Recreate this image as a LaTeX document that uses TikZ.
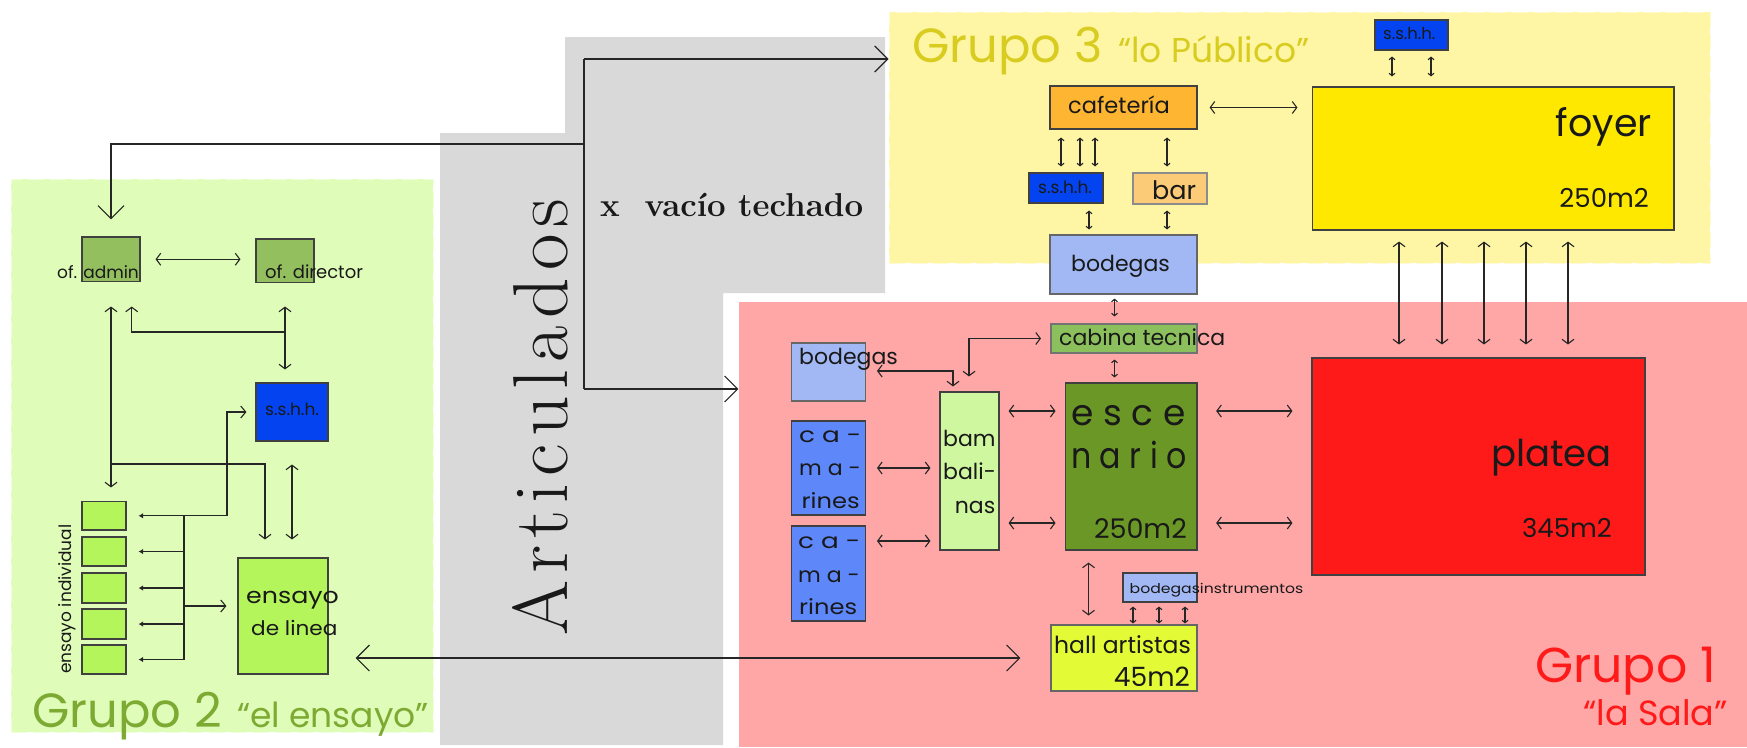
\documentclass[tikz,border=0pt]{standalone}
\usepackage{fontspec}
\usetikzlibrary{arrows.meta}
\newfontfamily\planfont{Poppins}
\newfontfamily\serifont{Latin Modern Roman}
\newfontfamily\artfont[LetterSpace=9]{Latin Modern Roman}
\def\fsz#1{\fontsize{#1}{#1}\selectfont}
\def\roombox[#1](#2)(#3,#4)(#5,#6){\node[room,#1,minimum width={(#5-(#3))*1pt},minimum height={(#6-(#4))*1pt}] (#2) at ({(#3+#5)/2},{(#4+#6)/2}) {};}
\definecolor{zonaverde}{RGB}{223,253,184}
\definecolor{zonaamarilla}{RGB}{255,246,165}
\definecolor{zonaroja}{RGB}{255,166,166}
\definecolor{zonagris}{RGB}{217,217,217}
\definecolor{azulbano}{RGB}{3,68,240}
\definecolor{azulbodega}{RGB}{162,184,244}
\definecolor{azulcamarin}{RGB}{94,136,250}
\definecolor{verdeoficina}{RGB}{147,191,94}
\definecolor{verdeensayo}{RGB}{181,245,92}
\definecolor{verdebamba}{RGB}{207,247,160}
\definecolor{verdeescena}{RGB}{107,151,39}
\definecolor{verdecabina}{RGB}{140,192,92}
\definecolor{amarillohall}{RGB}{227,250,54}
\definecolor{amarillofoyer}{RGB}{255,232,0}
\definecolor{rojoplatea}{RGB}{255,26,26}
\definecolor{naranjacafe}{RGB}{253,181,50}
\definecolor{naranjabar}{RGB}{252,203,120}
\definecolor{titulo3}{RGB}{216,204,32}
\definecolor{titulo2}{RGB}{124,170,50}
\tikzset{
	room/.style={draw=black!75,line width=1.1pt,inner sep=0pt},
	zona/.style={draw=none,inner sep=0pt},
	zonarayas/.style={line width=1pt,dash pattern=on 16pt off 6pt},
	flecha/.style={draw=black!85,line width=1.1pt,{Straight Barb[length=4.5pt,width=12pt]}-{Straight Barb[length=4.5pt,width=12pt]}},
	flechita/.style={draw=black!85,line width=1.1pt,{Straight Barb[length=2.5pt,width=6pt]}-{Straight Barb[length=2.5pt,width=6pt]}},
	flechon/.style={draw=black!85,line width=1.2pt,-{Straight Barb[length=13pt,width=26pt]}},
	tag/.style={inner sep=0pt,anchor=base west,text=black!90},
	tagr/.style={inner sep=0pt,anchor=base east,text=black!90},
}
\begin{document}
\begin{tikzpicture}[x=1pt,y=-1pt]
	\useasboundingbox (0,0) rectangle (1747,747);
	
	%%%%% ZONAS %%%%%
	\fill[zonagris] (440,133) -- (565,133) -- (565,37) -- (885,37) -- (885,293) -- (723,293) -- (723,745) -- (440,745) -- cycle;
	\roombox[zona,fill=zonaverde,draw=zonaverde!50!white,zonarayas](zona2)(11,179)(433,732)
	\roombox[zona,fill=zonaamarilla,draw=zonaamarilla!50!white,zonarayas](zona3)(889,12)(1710,263)
	\roombox[zona,fill=zonaroja](zona1)(739,302)(1747,747)
	
	%%%%% GRUPO 2 %%%%%
	\roombox[fill=verdeoficina](admin)(82,237)(140,281.5)
	\roombox[fill=verdeoficina](director)(256,239)(314,282.6)
	\roombox[fill=azulbano](sshhB)(256,383)(328,441)
	\roombox[fill=verdeensayo](ensayo)(238,558)(328,674)
	\roombox[fill=verdeensayo](en1)(82,501.5)(126,530)
	\roombox[fill=verdeensayo](en2)(82,537)(126,566)
	\roombox[fill=verdeensayo](en3)(82,573)(126,603)
	\roombox[fill=verdeensayo](en4)(82,609)(126,639)
	\roombox[fill=verdeensayo](en5)(82,645)(126,674)
	
	%%%%% GRUPO 3 %%%%%
	\roombox[fill=azulbano](sshhC)(1375,20)(1448,50)
	\roombox[fill=amarillofoyer](foyer)(1312.5,87)(1674,230)
	\roombox[fill=naranjacafe](cafe)(1050,86)(1197,129)
	\roombox[fill=azulbano](sshhA)(1029,173)(1103,203)
	\roombox[fill=naranjabar,draw=black!45](bar)(1133,173)(1207,204)
	\roombox[fill=azulbodega,draw=black!60](bodegas)(1050,235)(1197,294)
	
	%%%%% GRUPO 1 %%%%%
	\roombox[fill=verdecabina,draw=black!55](cabina)(1051,324)(1197,353)
	\roombox[fill=verdeescena](esc)(1065.6,383)(1197,550)
	\roombox[fill=verdebamba](bamb)(940,392)(999,550)
	\roombox[fill=azulbodega,draw=black!60](bodegasL)(791.5,343)(865.4,401)
	\roombox[fill=azulcamarin](cam1)(791.5,421)(865.4,515)
	\roombox[fill=azulcamarin](cam2)(791.5,526)(865.4,621)
	\roombox[fill=azulbodega](instr)(1123,573)(1197,602)
	\roombox[fill=amarillohall,draw=black!60](hall)(1051,625)(1197,691)
	\roombox[fill=rojoplatea](platea)(1312,358)(1645,575)
	
	%%%%% FLECHAS GRANDES %%%%%
	\coordinate (nudoA) at (584,59);
	\coordinate (nudoB) at (584,389);
	\coordinate (nudoC) at (584,144);
	\draw[flechon,-,line width=1.7pt] (nudoA) -- (nudoB);
	\draw[flechon] (nudoA) -- (nudoA -| zona3.west);
	\draw[flechon] (nudoB) -- (nudoB -| zona1.west);
	\draw[flechon,shorten >=17pt] (nudoC) -| (admin.north);
	\draw[flechon,{Straight Barb[length=13pt,width=26pt]}-{Straight Barb[length=13pt,width=26pt]},shorten <=27pt,shorten >=30pt] (ensayo.east |- hall.west) -- (hall.west);
	
	%%%%% FLECHAS GRUPO 2 %%%%%
	\draw[flecha,shorten <=15pt,shorten >=15pt] (admin.east) -- (admin.east -| director.west);
	\coordinate (cruce) at (285,332);
	\coordinate (ramal) at (111,464);
	\coordinate (busx) at (184,519);
	\draw[flecha,shorten <=24.5pt,shorten >=13.5pt] (admin.south) -- (admin.south |- en1.north);
	\draw[flecha,-{Straight Barb[length=4.5pt,width=12pt]},shorten >=24.5pt] (cruce) -| (131.7,0 |- admin.south);
	\draw[flecha,shorten <=23.4pt,shorten >=13pt] (director.south) -- (director.south |- sshhB.north);
	\draw[flecha,-{Straight Barb[length=4.5pt,width=12pt]},shorten >=18pt] (ramal) -| (265,0 |- ensayo.north);
	\draw[flecha,shorten <=23pt,shorten >=18pt] (sshhB.south) -- (sshhB.south |- ensayo.north);
	\draw[black!85,line width=1.2pt] (busx |- en1.east) -- (busx |- en5.east);
	\foreach \k in {1,...,5}
		\draw[flechita,-{Latex[length=4.5pt,width=5.5pt]},shorten >=12pt] (en\k.east -| busx) -- (en\k.east);
	\draw[flecha,-{Straight Barb[length=5pt,width=12pt]},shorten >=11pt] (184,606) -- (ensayo.west |- 0,606);
	\draw[flecha,-{Straight Barb[length=5pt,width=12pt]},shorten >=9pt] (busx |- en1.east) -| (227,0 |- sshhB.west) -- (sshhB.west);
	
	%%%%% FLECHAS GRUPO 3 %%%%%
	\draw[flecha,shorten <=12pt,shorten >=14.5pt] (cafe.east) -- (cafe.east -| foyer.west);
	\foreach \px in {1392,1431}
		\draw[flechita,shorten <=6pt,shorten >=10pt] (\px,0 |- sshhC.south) -- (\px,0 |- foyer.north);
	\foreach \px in {1061,1080,1095}
		\draw[flechita,shorten <=8pt,shorten >=6pt] (\px,0 |- cafe.south) -- (\px,0 |- sshhA.north);
	\draw[flechita,shorten <=8pt,shorten >=6pt] (1167,0 |- cafe.south) -- (1167,0 |- bar.north);
	\draw[flechita,shorten <=7pt,shorten >=5pt] (1089,0 |- sshhA.south) -- (1089,0 |- bodegas.north);
	\draw[flechita,shorten <=6pt,shorten >=5pt] (1167,0 |- bar.south) -- (1167,0 |- bodegas.north);
	\draw[flechita,shorten <=4pt,shorten >=7pt] (1114.5,0 |- bodegas.south) -- (1114.5,0 |- cabina.north);
	\foreach \px in {1399,1442,1484,1526,1568}
		\draw[flecha,shorten <=11pt,shorten >=13pt] (\px,0 |- foyer.south) -- (\px,0 |- platea.north);
	
	%%%%% FLECHAS GRUPO 1 %%%%%
	\draw[flechita,shorten <=6pt,shorten >=5pt] (1114.5,0 |- cabina.south) -- (1114.5,0 |- esc.north);
	\foreach \py in {411,523} {
		\draw[flecha,shorten <=9pt,shorten >=9.5pt] (bamb.east |- 0,\py) -- (esc.west |- 0,\py);
		\draw[flecha,shorten <=18.6pt,shorten >=19pt] (esc.east |- 0,\py) -- (platea.west |- 0,\py);
	}
	\draw[flecha,shorten <=11pt,shorten >=9pt] (cam1.east) -- (cam1.east -| bamb.west);
	\draw[flecha,shorten <=11pt,shorten >=9pt] (cam2.east |- 0,541) -- (bamb.west |- 0,541);
	\draw[flecha,shorten <=11pt,shorten >=5pt] (bodegasL.east |- 0,371) -| (953,0 |- bamb.north);
	\draw[flecha,shorten <=9.5pt,shorten >=15pt] (cabina.west) -| (969,0 |- bamb.north);
	\draw[flecha,shorten <=12pt,shorten >=9pt] (1088.5,0 |- esc.south) -- (1088.5,0 |- hall.north);
	\foreach \px in {1133,1159,1185}
		\draw[flechita,shorten <=4pt,shorten >=1pt] (\px,0 |- instr.south) -- (\px,0 |- hall.north);
	
	%%%%% TEXTOS %%%%%
	\node[tag,rotate=90,font=\artfont\fsz{72}] (tArticulados) at (567,636) {\resizebox{437pt}{55pt}{Articulados}};
	\node[tag,font=\serifont\bfseries\fsz{30}] (tVacio) at (600,216) {\resizebox{263pt}{!}{x\ \ vacío techado}};
	
	\node[tag,text=titulo2,font=\planfont\fsz{48}] (tGrupoB) at (32,727) {Grupo 2};
	\node[tag,text=titulo2,font=\planfont\fsz{34.5}] (tEnsayo) at (237,727) {“el ensayo”};
	\node[tag,text=titulo3,font=\planfont\fsz{48}] (tGrupoC) at (912,62) {Grupo 3};
	\node[tag,text=titulo3,font=\planfont\fsz{34.5}] (tPublico) at (1118,62) {“lo Público”};
	\node[tag,text=rojoplatea,font=\planfont\fsz{49}] (tGrupoA) at (1535,682) {Grupo 1};
	\node[tag,text=rojoplatea,font=\planfont\fsz{35}] (tSala) at (1583,725) {“la Sala”};
	
	\node[tag,font=\planfont\fsz{17}] (tAdmin) at (57,278) {of. admin};
	\node[tag,font=\planfont\fsz{18}] (tDirector) at (265,278) {of. director};
	\node[tag,font=\planfont\fsz{17}] (tBanoB) at (265,415) {s.s.h.h.};
	\node[tag,font=\planfont\fsz{22}] (tEnsayoA) at (246,603) {\scalebox{1.15}[1]{ensayo}};
	\node[tag,font=\planfont\fsz{20}] (tEnsayoB) at (251,635) {\scalebox{1.08}[1]{de linea}};
	\node[tag,rotate=90,font=\planfont\fsz{17}] (tIndividual) at (71,674) {ensayo individual};
	
	\node[tag,font=\planfont\fsz{16.5}] (tBanoC) at (1383,39) {s.s.h.h.};
	\node[tagr,font=\planfont\fsz{38}] (tFoyer) at (1652,136) {foyer};
	\node[tagr,font=\planfont\fsz{26}] (tFoyerM) at (1649,207) {250m2};
	\node[tag,font=\planfont\fsz{22.5}] (tCafe) at (1068,113) {cafetería};
	\node[tag,font=\planfont\fsz{17}] (tBanoA) at (1038,193) {s.s.h.h.};
	\node[tag,font=\planfont\fsz{25.5}] (tBar) at (1152,199) {bar};
	\node[tag,font=\planfont\fsz{22}] (tBodegas) at (1071,271) {bodegas};
	
	\node[tag,font=\planfont\fsz{22}] (tCabina) at (1059,345) {cabina tecnica};
	\node[tag,font=\planfont\fsz{22}] (tBodegasL) at (799,364) {bodegas};
	\node[tag,font=\planfont\fsz{21}] (tCa) at (799,442) {\scalebox{1.25}[1]{c a -}};
	\node[tag,font=\planfont\fsz{21}] (tMa) at (799,475) {\scalebox{1.05}[1]{m a -}};
	\node[tag,font=\planfont\fsz{21}] (tRines) at (801.5,508) {\scalebox{1.15}[1]{rines}};
	\node[tag,font=\planfont\fsz{21}] (tCaB) at (798,548) {\scalebox{1.25}[1]{c a -}};
	\node[tag,font=\planfont\fsz{21}] (tMaB) at (798,582) {\scalebox{1.05}[1]{m a -}};
	\node[tag,font=\planfont\fsz{21}] (tRinesB) at (799,614) {\scalebox{1.15}[1]{rines}};
	\node[tag,font=\planfont\fsz{22}] (tBam) at (943,446) {bam};
	\node[tag,font=\planfont\fsz{22}] (tBali) at (943,479) {bali-};
	\node[tagr,font=\planfont\fsz{22}] (tNas) at (995.5,513) {nas};
	\node[tag,font=\planfont\fsz{36}] (tEsce) at (1071,425) {e s c e};
	\node[tag,font=\planfont\fsz{36}] (tNario) at (1071,468) {\scalebox{0.88}[1]{n a r i o}};
	\node[tagr,font=\planfont\fsz{27}] (tEscM) at (1187,538) {250m2};
	\node[tag,font=\planfont\fsz{13.5}] (tInstr) at (1129.5,593) {\scalebox{1.16}[1]{bodegasinstrumentos}};
	\node[tagr,font=\planfont\fsz{23.5}] (tHall) at (1191,653) {hall artistas};
	\node[tagr,font=\planfont\fsz{26.5}] (tHallM) at (1190,686) {45m2};
	\node[tagr,font=\planfont\fsz{37}] (tPlatea) at (1612,466) {platea};
	\node[tagr,font=\planfont\fsz{26}] (tPlateaM) at (1612,537) {345m2};
\end{tikzpicture}
\end{document}
